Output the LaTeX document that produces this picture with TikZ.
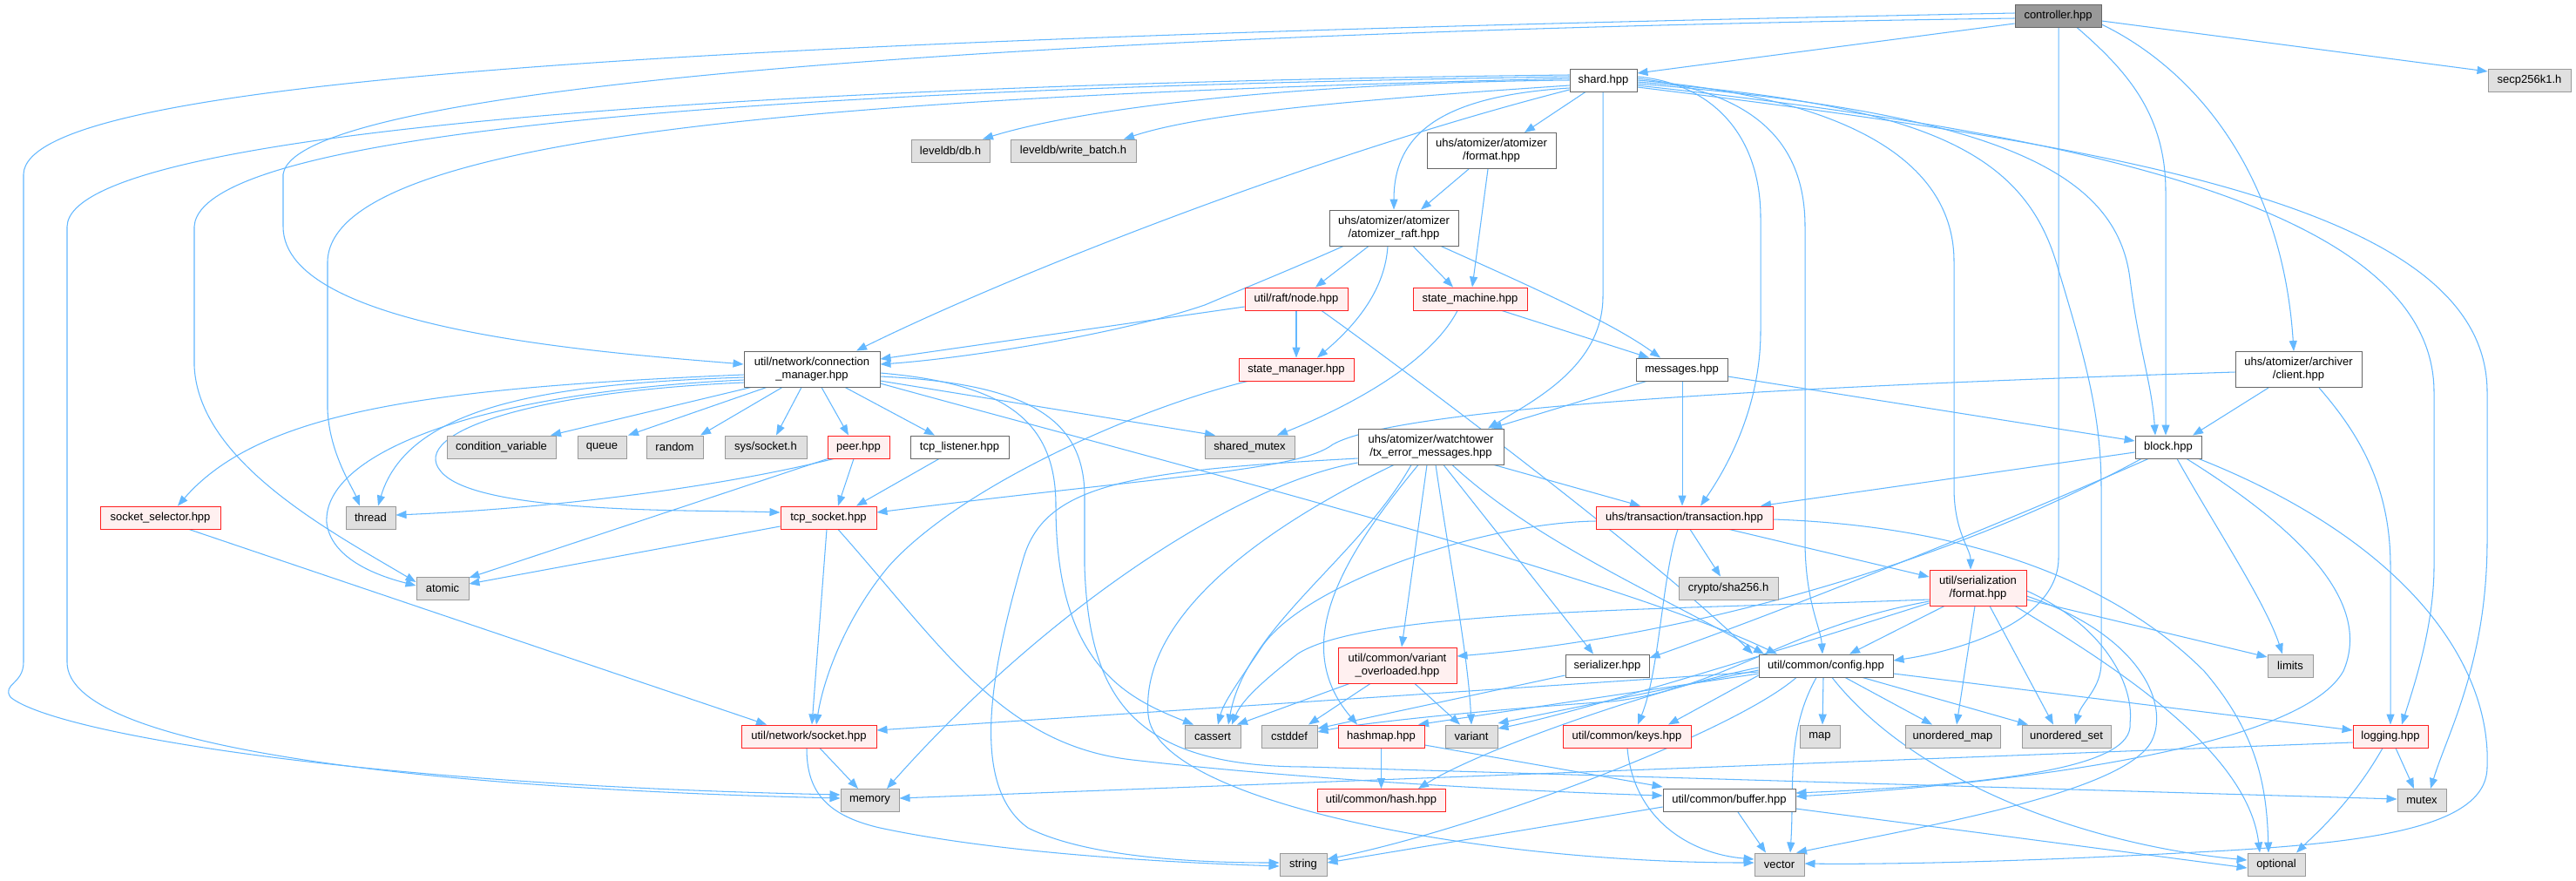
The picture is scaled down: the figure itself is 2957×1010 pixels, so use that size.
\documentclass[tikz,border=0pt]{standalone}
\usepackage{fontspec}
\setmainfont{Liberation Sans}
\usetikzlibrary{arrows.meta}
\definecolor{edgeblue}{HTML}{63B8FF}
\definecolor{nborder}{HTML}{666666}
\definecolor{gborder}{HTML}{999999}
\definecolor{gfill}{HTML}{E0E0E0}
\definecolor{rfill}{HTML}{FFF0F0}
\definecolor{rborder}{HTML}{FF2020}
\definecolor{mfill}{HTML}{999999}
\newcommand\fsz{\fontsize{13pt}{15pt}\selectfont}
\pgfdeclarelayer{bg}
\pgfsetlayers{bg,main}
\tikzset{
 nd/.style={draw=nborder, fill=white, line width=0.95pt, inner sep=0pt, font=\fsz, align=center, minimum height=26pt},
 rn/.style={nd, draw=rborder, fill=rfill},
 gn/.style={nd, draw=gborder, fill=gfill},
 mn/.style={nd, fill=mfill},
 tl/.style={minimum height=41pt},
 e/.style={draw=edgeblue, line width=1.05pt, -{Triangle[length=12pt,width=9pt]}},
}
\begin{document}
\begin{tikzpicture}[x=1pt,y=-1pt]
\useasboundingbox (0,0) rectangle (2957,1010);
% ---------- nodes ----------
\node[mn, minimum width=99pt] (ctrl) at (2362.5,18) {controller.hpp};
\node[nd, minimum width=77pt] (shard) at (1840.5,92) {shard.hpp};
\node[gn, minimum width=95pt] (secp) at (2903.5,92) {secp256k1.h};
\node[gn, minimum width=90pt] (ldb) at (1091,173) {leveldb/db.h};
\node[gn, minimum width=144pt] (lwb) at (1232,173) {leveldb/write\_batch.h};
\node[nd, tl, minimum width=148pt] (afmt) at (1712,173) {uhs/atomizer/atomizer\\/format.hpp};
\node[nd, tl, minimum width=148pt] (araft) at (1600,261.5) {uhs/atomizer/atomizer\\/atomizer\_raft.hpp};
\node[rn, minimum width=118pt] (rnode) at (1488,343) {util/raft/node.hpp};
\node[rn, minimum width=131pt] (smach) at (1687.5,343) {state\_machine.hpp};
\node[rn, minimum width=132pt] (smgr) at (1488,424) {state\_manager.hpp};
\node[nd, minimum width=105pt] (msgs) at (1930.5,424) {messages.hpp};
\node[nd, tl, minimum width=156pt] (cm) at (932,423.5) {util/network/connection\\\_manager.hpp};
\node[nd, tl, minimum width=145pt] (client) at (2638.5,424) {uhs/atomizer/archiver\\/client.hpp};
\node[nd, minimum width=76pt] (block) at (2489,513) {block.hpp};
\node[gn, minimum width=125pt] (condvar) at (575.5,513) {condition\_variable};
\node[gn, minimum width=56pt] (queue) at (691,513) {queue};
\node[gn, minimum width=65pt] (random) at (774.5,513) {random};
\node[gn, minimum width=94pt] (syssock) at (879,513) {sys/socket.h};
\node[rn, minimum width=71pt] (peer) at (985.5,513) {peer.hpp};
\node[nd, minimum width=113pt] (tcpl) at (1101.5,513) {tcp\_listener.hpp};
\node[gn, minimum width=103pt] (shmutex) at (1434.5,513) {shared\_mutex};
\node[nd, tl, minimum width=167pt] (txerr) at (1642.5,512.5) {uhs/atomizer/watchtower\\/tx\_error\_messages.hpp};
\node[rn, minimum width=138pt] (sockselect) at (184,594) {socket\_selector.hpp};
\node[gn, minimum width=57pt] (thread) at (425.5,594) {thread};
\node[rn, minimum width=110pt] (tcps) at (951,594) {tcp\_socket.hpp};
\node[rn, minimum width=203pt] (tx) at (1933.5,594) {uhs/transaction/transaction.hpp};
\node[gn, minimum width=60pt] (atomic) at (508,675) {atomic};
\node[gn, minimum width=114pt] (sha) at (1984,675) {crypto/sha256.h};
\node[rn, tl, minimum width=111pt] (serfmt) at (2270.5,674.5) {util/serialization\\/format.hpp};
\node[rn, tl, minimum width=136pt] (varov) at (1604,763.5) {util/common/variant\\\_overloaded.hpp};
\node[nd, minimum width=96pt] (serializer) at (1845,764) {serializer.hpp};
\node[nd, minimum width=154pt] (config) at (2096,764) {util/common/config.hpp};
\node[gn, minimum width=52pt] (limits) at (2629,764) {limits};
\node[rn, minimum width=155pt] (socket) at (928.5,845) {util/network/socket.hpp};
\node[gn, minimum width=64pt] (cassert) at (1392,845) {cassert};
\node[gn, minimum width=64pt] (cstddef) at (1480,845) {cstddef};
\node[rn, minimum width=99pt] (hashmap) at (1585.5,845) {hashmap.hpp};
\node[gn, minimum width=60pt] (variant) at (1689,845) {variant};
\node[rn, minimum width=147pt] (keys) at (1867.5,845) {util/common/keys.hpp};
\node[gn, minimum width=46pt] (map) at (2089,845) {map};
\node[gn, minimum width=109pt] (umap) at (2241.5,845) {unordered\_map};
\node[gn, minimum width=102pt] (uset) at (2372,845) {unordered\_set};
\node[rn, minimum width=86pt] (logging) at (2744,845) {logging.hpp};
\node[gn, minimum width=67pt] (memory) at (998.5,918.5) {memory};
\node[rn, minimum width=147pt] (hash) at (1585.5,918.5) {util/common/hash.hpp};
\node[nd, minimum width=152pt] (buffer) at (1985,918.5) {util/common/buffer.hpp};
\node[gn, minimum width=56pt] (mutex) at (2780,918.5) {mutex};
\node[gn, minimum width=54pt] (string) at (1496,992) {string};
\node[gn, minimum width=57pt] (vector) at (2042.5,992) {vector};
\node[gn, minimum width=66pt] (optional) at (2613,992) {optional};
% ---------- edges ----------
\begin{pgfonlayer}{bg}
\fill[white] (0,0) rectangle (2957,1010);
% controller
\draw[e] (ctrl.west |- 0,27) -- (shard.east |- 0,84);
\draw[e] (ctrl.west |- 0,15) .. controls (800,45) and (30,90) .. (27,200) -- (27,760) .. controls (27,785) and (2,785) .. (12,800) .. controls (60,840) and (400,900) .. (memory.west |- 0,912);
\draw[e] (ctrl.west |- 0,21) .. controls (1300,35) and (340,90) .. (325,200) -- (325,260) .. controls (325,380) and (700,405) .. (cm.west |- 0,418);
\draw[e] (ctrl.south -| 2363,0) -- (2363,640) .. controls (2363,710) and (2260,745) .. (config.east |- 0,758);
\draw[e] (ctrl.south -| 2384,0) .. controls (2440,80) and (2486,130) .. (2486,220) -- (block.north -| 2486,0);
\draw[e] (ctrl.east |- 0,28) .. controls (2520,80) and (2620,200) .. (client.north -| 2633,0);
\draw[e] (ctrl.east |- 0,24) -- (secp.west |- 0,82);
% shard
\draw[e] (shard.west |- 0,92) .. controls (1500,95) and (1250,122) .. (ldb.north -| 1128,0);
\draw[e] (shard.west |- 0,98) .. controls (1550,115) and (1380,130) .. (lwb.north -| 1290,0);
\draw[e] (shard.south -| 1820,0) -- (afmt.north -| 1750,0);
\draw[e] (shard.west |- 0,101) .. controls (1660,110) and (1600,150) .. (araft.north -| 1600,0);
\draw[e] (shard.west |- 0,103) .. controls (1500,180) and (1150,320) .. (cm.north -| 983,0);
\draw[e] (shard.south -| 1840,0) -- (1840,340) .. controls (1840,420) and (1760,460) .. (txerr.north -| 1708,0);
\draw[e] (shard.east |- 0,88) .. controls (1960,95) and (2021,150) .. (2021,250) -- (2021,380) .. controls (2021,470) and (1980,540) .. (tx.north -| 1952,0);
\draw[e] (shard.east |- 0,90) .. controls (2010,105) and (2072,160) .. (2072,260) -- (2072,620) .. controls (2072,690) and (2090,720) .. (config.north -| 2092,0);
\draw[e] (shard.east |- 0,92) .. controls (2150,115) and (2243,200) .. (2243,300) -- (2243,560) .. controls (2243,610) and (2262,630) .. (serfmt.north -| 2262,0);
\draw[e] (shard.east |- 0,94) .. controls (2200,120) and (2320,170) .. (2360,300) .. controls (2390,400) and (2412,470) .. (2412,560) -- (2412,760) .. controls (2412,790) and (2390,805) .. (uset.north -| 2382,0);
\draw[e] (shard.east |- 0,96) .. controls (2300,130) and (2430,200) .. (2445,320) .. controls (2455,400) and (2470,440) .. (block.north -| 2474,0);
\draw[e] (shard.east |- 0,98) .. controls (2350,150) and (2794,230) .. (2794,450) -- (2794,650) .. controls (2794,720) and (2770,790) .. (logging.north -| 2757,0);
\draw[e] (shard.east |- 0,100) .. controls (2450,170) and (2855,240) .. (2855,450) -- (2855,620) .. controls (2855,760) and (2810,840) .. (mutex.north -| 2790,0);
\draw[e] (shard.west |- 0,86) .. controls (1000,95) and (80,140) .. (77,260) -- (77,760) .. controls (77,860) and (500,905) .. (memory.west |- 0,916);
\draw[e] (shard.west |- 0,88) .. controls (1000,100) and (230,140) .. (223,260) -- (223,420) .. controls (228,530) and (380,610) .. (atomic.west |- 0,668);
\draw[e] (shard.west |- 0,90) .. controls (1000,110) and (380,150) .. (376,300) -- (376,470) .. controls (378,520) and (405,560) .. (thread.north -| 413,0);
% atomizer format / raft
\draw[e] (afmt.south -| 1686,0) -- (araft.north -| 1631,0);
\draw[e] (afmt.south -| 1708,0) -- (smach.north -| 1690,0);
\draw[e] (araft.south -| 1542,0) .. controls (1480,310) and (1430,330) .. (1383,350) .. controls (1280,385) and (1100,412) .. (cm.east |- 0,418);
\draw[e] (araft.south -| 1571,0) -- (rnode.north -| 1510,0);
\draw[e] (araft.south -| 1593,0) .. controls (1590,330) and (1560,370) .. (smgr.north -| 1512,0);
\draw[e] (araft.south -| 1622,0) -- (smach.north -| 1668,0);
\draw[e] (araft.south -| 1654,0) .. controls (1760,330) and (1850,370) .. (msgs.north -| 1906,0);
% raft node
\draw[e] (rnode.west |- 0,352) -- (cm.east |- 0,412);
\draw[e] (rnode.south) -- (smgr.north);
\draw[e] (rnode.south -| 1517,0) .. controls (1620,430) and (1900,640) .. (config.north -| 2012,0);
% state machine / manager
\draw[e] (smach.south -| 1673,0) .. controls (1640,420) and (1540,470) .. (shmutex.north -| 1466,0);
\draw[e] (smach.south -| 1724,0) -- (msgs.north -| 1893,0);
\draw[e] (smgr.south -| 1432,0) .. controls (1300,470) and (1100,560) .. (1020,650) .. controls (970,710) and (945,780) .. (socket.north -| 937,0);
% messages
\draw[e] (msgs.south -| 1890,0) -- (txerr.north -| 1712,0);
\draw[e] (msgs.south -| 1931,0) -- (tx.north -| 1931,0);
\draw[e] (msgs.east |- 0,432) -- (block.west |- 0,506);
% client
\draw[e] (client.south -| 2604,0) -- (block.north -| 2517,0);
\draw[e] (client.south -| 2662,0) .. controls (2710,500) and (2744,560) .. (2744,650) -- (logging.north);
\draw[e] (client.west |- 0,427) .. controls (2000,445) and (1600,470) .. (1530,510) .. controls (1490,540) and (1350,545) .. (tcps.east |- 0,588);
% tx_error_messages
\draw[e] (txerr.south -| 1715,0) -- (tx.north -| 1883,0);
\draw[e] (txerr.south -| 1638,0) -- (varov.north -| 1609,0);
\draw[e] (txerr.south -| 1628,0) .. controls (1540,640) and (1480,740) .. (hashmap.north -| 1558,0);
\draw[e] (txerr.south -| 1648,0) .. controls (1665,650) and (1685,750) .. (variant.north -| 1689,0);
\draw[e] (txerr.south -| 1657,0) -- (serializer.north -| 1829,0);
\draw[e] (txerr.south -| 1667,0) .. controls (1760,620) and (1900,680) .. (config.north -| 2025,0);
\draw[e] (txerr.south -| 1620,0) .. controls (1560,640) and (1430,720) .. (cassert.north -| 1410,0);
\draw[e] (txerr.south -| 1600,0) .. controls (1420,620) and (1310,720) .. (1318,820) .. controls (1326,920) and (1700,990) .. (vector.west |- 0,990);
\draw[e] (txerr.west |- 0,526) .. controls (1300,540) and (1200,555) .. (1175,640) .. controls (1140,760) and (1110,900) .. (1180,950) .. controls (1250,985) and (1380,990) .. (string.west |- 0,990);
\draw[e] (txerr.west |- 0,531) .. controls (1420,555) and (1200,700) .. (memory.north -| 1018,0);
% connection manager
\draw[e] (cm.south -| 862,0) -- (condvar.north -| 632,0);
\draw[e] (cm.south -| 880,0) -- (queue.north -| 721,0);
\draw[e] (cm.south -| 898,0) -- (random.north -| 804,0);
\draw[e] (cm.south -| 920,0) -- (syssock.north -| 891,0);
\draw[e] (cm.south -| 943,0) -- (peer.north -| 974,0);
\draw[e] (cm.south -| 970,0) -- (tcpl.north -| 1073,0);
\draw[e] (cm.west |- 0,430) .. controls (500,445) and (300,470) .. (sockselect.north -| 204,0);
\draw[e] (cm.west |- 0,433) .. controls (650,440) and (470,460) .. (thread.north -| 434,0);
\draw[e] (cm.west |- 0,436) .. controls (550,450) and (370,520) .. (375,600) .. controls (380,640) and (430,660) .. (atomic.west |- 0,672);
\draw[e] (cm.west |- 0,439) .. controls (600,450) and (460,500) .. (510,545) .. controls (560,590) and (800,585) .. (tcps.west |- 0,588);
\draw[e] (cm.east |- 0,437) -- (shmutex.north -| 1395,0);
\draw[e] (cm.east |- 0,440) .. controls (1300,520) and (1850,660) .. (config.north -| 2040,0);
\draw[e] (cm.east |- 0,428) .. controls (1150,440) and (1212,480) .. (1212,580) .. controls (1212,760) and (1290,800) .. (cassert.north -| 1370,0);
\draw[e] (cm.east |- 0,432) .. controls (1180,440) and (1245,480) .. (1245,570) -- (1245,650) .. controls (1250,800) and (1300,880) .. (1500,880) -- (mutex.west |- 0,917);
% peer / listener / sockets
\draw[e] (peer.south -| 957,0) .. controls (800,565) and (600,585) .. (thread.east |- 0,591);
\draw[e] (peer.south -| 950,0) -- (atomic.east |- 0,663);
\draw[e] (peer.south -| 980,0) -- (tcps.north -| 962,0);
\draw[e] (tcpl.south -| 1078,0) -- (tcps.north -| 983,0);
\draw[e] (tcps.west |- 0,604) -- (atomic.east |- 0,670);
\draw[e] (tcps.south -| 949,0) -- (socket.north -| 932,0);
\draw[e] (tcps.south -| 962,0) .. controls (1080,740) and (1150,855) .. (1300,872) .. controls (1500,895) and (1750,908) .. (buffer.west |- 0,913);
\draw[e] (sockselect.south -| 217,0) -- (socket.north -| 880,0);
\draw[e] (socket.south -| 941,0) -- (memory.north -| 985,0);
\draw[e] (socket.south -| 926,0) .. controls (926,905) and (945,935) .. (1010,950) .. controls (1150,980) and (1350,990) .. (string.west |- 0,994);
% variant overloaded / serializer
\draw[e] (varov.south -| 1549,0) -- (cassert.north -| 1420,0);
\draw[e] (varov.south -| 1573,0) -- (cstddef.north -| 1502,0);
\draw[e] (varov.south -| 1624,0) -- (variant.north -| 1676,0);
\draw[e] (serializer.west |- 0,775) -- (cstddef.east |- 0,836);
% transaction
\draw[e] (tx.south -| 1940,0) -- (sha.north -| 1975,0);
\draw[e] (tx.south -| 1985,0) -- (serfmt.west |- 0,662);
\draw[e] (tx.south -| 1926,0) .. controls (1908,660) and (1905,770) .. (keys.north -| 1880,0);
\draw[e] (tx.east |- 0,596) .. controls (2300,605) and (2450,690) .. (2530,770) .. controls (2590,840) and (2602,900) .. (optional.north -| 2604,0);
\draw[e] (tx.west |- 0,598) .. controls (1700,600) and (1500,670) .. (1450,740) .. controls (1420,785) and (1405,805) .. (cassert.north -| 1398,0);
% serialization format
\draw[e] (serfmt.south -| 2232,0) -- (config.north -| 2123,0);
\draw[e] (serfmt.south -| 2267,0) -- (umap.north -| 2246,0);
\draw[e] (serfmt.south -| 2284,0) -- (uset.north -| 2357,0);
\draw[e] (serfmt.east |- 0,688) -- (limits.west |- 0,754);
\draw[e] (serfmt.south -| 2313,0) .. controls (2420,760) and (2580,860) .. (optional.north -| 2594,0);
\draw[e] (serfmt.east |- 0,678) .. controls (2420,720) and (2450,790) .. (2445,830) .. controls (2450,880) and (2300,900) .. (buffer.east |- 0,910);
\draw[e] (serfmt.east |- 0,684) .. controls (2460,730) and (2490,810) .. (2470,850) .. controls (2440,910) and (2200,950) .. (vector.north -| 2062,0);
\draw[e] (serfmt.west |- 0,688) .. controls (1900,700) and (1570,700) .. (1490,750) .. controls (1445,785) and (1425,805) .. (cassert.north -| 1414,0);
\draw[e] (serfmt.west |- 0,690) .. controls (2050,720) and (1980,790) .. (1850,805) .. controls (1700,815) and (1560,830) .. (cstddef.east |- 0,840);
\draw[e] (serfmt.west |- 0,692) .. controls (2000,760) and (1800,820) .. (variant.east |- 0,836);
% config
\draw[e] (config.south -| 2093,0) -- (map.north -| 2092,0);
\draw[e] (config.south -| 2118,0) -- (umap.north -| 2218,0);
\draw[e] (config.south -| 2138,0) -- (uset.north -| 2328,0);
\draw[e] (config.east |- 0,773) -- (logging.west |- 0,838);
\draw[e] (config.south -| 2103,0) .. controls (2200,900) and (2400,970) .. (optional.west |- 0,987);
\draw[e] (config.south -| 2085,0) .. controls (2050,840) and (2060,900) .. (vector.north -| 2055,0);
\draw[e] (config.south -| 2062,0) .. controls (1990,840) and (1700,950) .. (string.east |- 0,986);
\draw[e] (config.west |- 0,771) -- (socket.east |- 0,838);
\draw[e] (config.west |- 0,775) -- (keys.north -| 1915,0);
\draw[e] (config.west |- 0,773) -- (hashmap.north -| 1628,0);
\draw[e] (config.west |- 0,769) -- (variant.east |- 0,830);
\draw[e] (config.west |- 0,766) .. controls (1900,790) and (1700,860) .. (hash.north -| 1628,0);
% logging
\draw[e] (logging.south -| 2750,0) -- (mutex.north -| 2771,0);
\draw[e] (logging.south -| 2735,0) .. controls (2700,920) and (2660,955) .. (optional.north -| 2636,0);
\draw[e] (logging.west |- 0,852) -- (memory.east |- 0,916);
% block
\draw[e] (block.west |- 0,519) -- (tx.north -| 2021,0);
\draw[e] (block.south -| 2499,0) .. controls (2540,600) and (2600,690) .. (limits.north -| 2620,0);
\draw[e] (block.south -| 2524,0) .. controls (2760,620) and (2860,760) .. (2855,880) .. controls (2855,950) and (2720,968) .. (2520,978) .. controls (2300,990) and (2150,992) .. (vector.east |- 0,991);
\draw[e] (block.south -| 2510,0) .. controls (2660,620) and (2720,700) .. (2690,770) .. controls (2640,860) and (2300,900) .. (buffer.east |- 0,914);
\draw[e] (block.south -| 2466,0) .. controls (2300,600) and (2050,700) .. (serializer.east |- 0,755);
\draw[e] (block.south -| 2458,0) .. controls (2250,640) and (1950,730) .. (varov.east |- 0,753);
% keys / hashmap / buffer
\draw[e] (keys.south -| 1868,0) .. controls (1875,940) and (1940,980) .. (vector.west |- 0,986);
\draw[e] (hashmap.south) -- (hash.north);
\draw[e] (hashmap.east |- 0,855) -- (buffer.west |- 0,903);
\draw[e] (buffer.south -| 1995,0) -- (vector.north -| 2027,0);
\draw[e] (buffer.west |- 0,926) -- (string.east |- 0,990);
\draw[e] (buffer.east |- 0,928) -- (optional.west |- 0,996);
\end{pgfonlayer}
\end{tikzpicture}
\end{document}
